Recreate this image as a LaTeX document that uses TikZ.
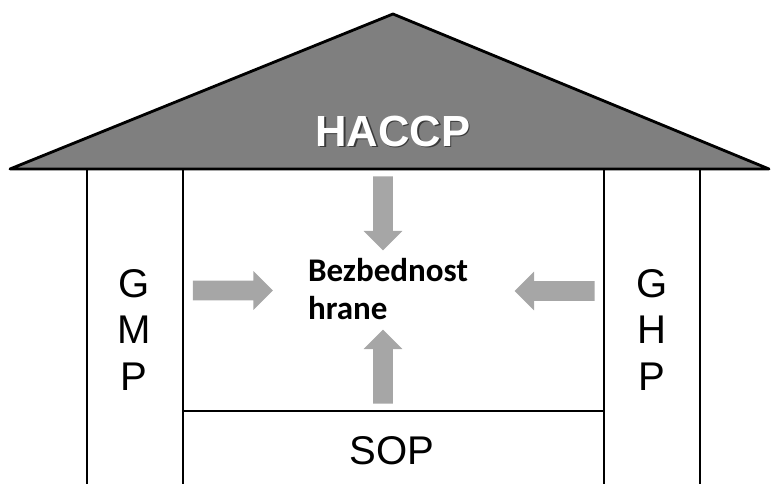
\documentclass[tikz,border=0pt]{standalone}
\usepackage{fontspec}
\setmainfont{Liberation Sans}
\newfontfamily\calibrifont{Carlito}
\usetikzlibrary{shapes.arrows,positioning}
\definecolor{ink}{HTML}{000000}
\definecolor{roofgray}{HTML}{7F7F7F}
\definecolor{arrowgray}{HTML}{A6A6A6}
\definecolor{shadowgray}{HTML}{3A3A3A}
\tikzset{
  wall/.style={draw=ink,line width=2pt},
  roofshape/.style={draw=ink,fill=roofgray,line width=2pt,line join=round},
  rooftext/.style={inner sep=0pt,font=\fontsize{31}{37}\selectfont\bfseries},
  pillartext/.style={align=center,inner sep=0pt,
                     font=\fontsize{28.5}{33.4}\selectfont},
  safetytext/.style={align=left,inner sep=0pt,
                     font=\calibrifont\fontsize{23.5}{27}\selectfont\bfseries},
  blockarrow/.style={single arrow,fill=arrowgray,draw=none,inner sep=0pt,
                     text width=0pt,text height=0.24cm,text depth=0.24cm,
                     single arrow head extend=0.24cm}
}
\begin{document}
\begin{tikzpicture}[x=0.025cm,y=-0.025cm]
  \useasboundingbox (0,0) rectangle (771,484);

  % roof
  \coordinate (eaveL) at (10,169);
  \coordinate (ridge) at (393,14);
  \coordinate (eaveR) at (769,169);
  \draw[roofshape] (eaveL) -- (ridge) -- (eaveR) -- cycle;
  \node[rooftext,text=shadowgray] (haccpshadow) at (394.5,132.5) {HACCP};
  \node[rooftext,text=white] (haccp) at (393,131) {HACCP};

  % pillars and floor
  \foreach \x in {87,183,604,700} {
    \draw[wall] (\x,169) -- (\x,484);
  }
  \draw[wall] (183,411) -- (604,411);

  \node[pillartext] (gmp) at (134,330) {G\\M\\P};
  \node[pillartext] (ghp) at (652,330) {G\\H\\P};
  \node[pillartext] (sop) at (392,450.5) {SOP};

  % centre
  \node[safetytext] (food) at (388,289.5) {Bezbednost\\hrane};

  % arrows pointing in
  \node[blockarrow,minimum height=1.85cm,rotate=-90] (arrtop) at (383,208.5) {};
  \node[blockarrow,minimum height=2cm] (arrleft) at (228,290.5) {};
  \node[blockarrow,minimum height=2cm,rotate=180] (arrright) at (559.5,291) {};
  \node[blockarrow,minimum height=1.85cm,rotate=90] (arrbottom) at (383,371.5) {};
\end{tikzpicture}
\end{document}
